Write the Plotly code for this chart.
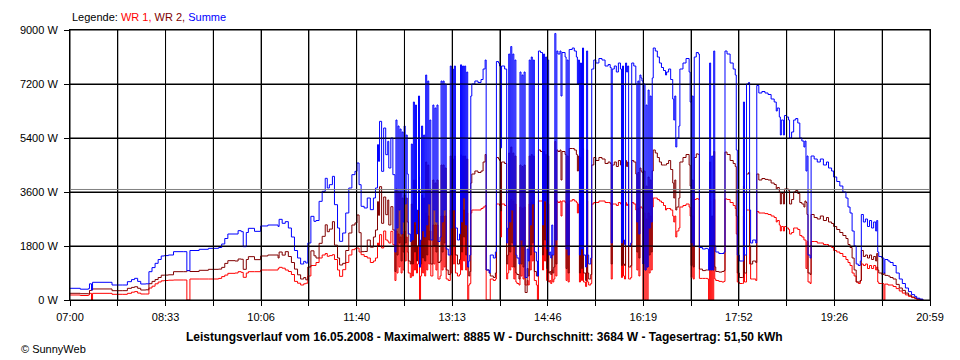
import plotly.graph_objects as go

# ---- data (minutes after 07:00, watts) ----
minutes = [
    0, 10, 18, 19, 21, 22, 39, 41, 51, 56, 60, 63, 66, 69, 74, 77, 80, 83, 86, 89, 92, 96, 101, 111, 114,
    116, 117, 126, 135, 145, 148, 151, 154, 161, 164, 167, 169, 172, 174, 180, 186, 193, 200, 203, 204, 207, 210,
    213, 216, 219, 222, 225, 228, 230, 232, 235, 238, 240, 243, 246, 249, 251, 253, 256, 258, 261, 263,
    266, 269, 272, 275, 278, 280, 282, 284, 287, 290, 293, 296, 298, 300, 301, 302, 304, 306, 308, 310, 311, 313, 315, 317,
    318, 319, 320, 321, 322, 323, 324, 325, 326, 327, 328, 329, 330, 332, 333, 334, 335, 336, 337, 338,
    339, 340, 341, 342, 343, 344, 345, 346, 347, 348, 349, 350, 351, 352, 354, 355, 356, 357, 358, 359,
    361, 362, 363, 364, 365, 366, 367, 369, 371, 372, 373, 374, 375, 376, 378, 380, 381, 382, 383, 384, 385, 386, 387, 388, 389, 390,
    391, 392, 395, 398, 401, 403, 405, 406, 409, 410, 413, 415, 416, 418, 419, 420, 421, 424,
    426, 427, 428, 429, 430, 431, 432, 433, 434, 435, 436, 438, 439, 440, 441, 442, 443, 444, 446, 447,
    448, 449, 450, 451, 452, 453, 455, 456, 457, 459, 461, 462, 463, 464, 465, 466, 467, 468, 469, 470, 471, 472,
    473, 474, 475, 476, 478, 479, 480, 483, 484, 485, 486, 487, 490, 492, 494, 495, 496, 497, 498, 499, 500,
    501, 503, 504, 505, 506, 508, 509, 511, 513, 516, 519, 522, 525, 527, 528, 529, 531, 533, 535, 537,
    538, 539, 540, 541, 542, 543, 544, 545, 547, 548, 550, 552, 553, 554, 555, 556, 557, 558,
    559, 560, 561, 562, 563, 564, 565, 566, 567, 568, 569, 571, 573, 575, 577, 579, 581, 582, 584, 586,
    588, 589, 590, 591, 592, 594, 595, 598, 601, 604, 605, 606, 607, 608, 609, 611, 613, 614, 617, 620, 622,
    623, 624, 625, 626, 627, 628, 629, 630, 633, 636, 638, 639, 641, 644, 647, 649, 650, 651, 653, 656, 657, 658,
    660, 662, 663, 664, 666, 669, 670, 672, 675, 678, 681, 684, 687, 689, 690, 692, 693, 694, 696, 697,
    699, 701, 702, 704, 706, 708, 710, 712, 714, 716, 717, 718, 719, 720, 722, 723, 726, 729, 732, 735,
    738, 740, 743, 745, 748, 751, 754, 757, 759, 761, 763, 765, 767, 769, 771, 772, 774, 776, 778, 780,
    782, 784, 786, 787, 788, 789, 792, 794, 795, 798, 800, 803, 806, 809, 812, 815, 818, 821, 824, 826, 829, 832,
]

summe = [
    390, 360, 380, 540, 333, 590, 590, 500, 500, 611, 680, 722, 620, 533, 540, 944, 1080, 1222, 1350, 1467, 1480, 1500, 1611, 1611, 980,
    980, 1650, 1690, 1722, 1750, 1867, 2050, 2200, 2200, 2311, 2278, 1778, 2250, 2389, 2289, 2467, 2500, 2500, 2450, 2689, 2556, 2611,
    2400, 2100, 1650, 1400, 1200, 1289, 1233, 1900, 2789, 2622, 2650, 3289, 3622, 4056, 3733, 3844, 4122, 3178, 2400, 1956,
    2233, 2900, 3733, 4178, 4289, 4567, 3844, 3122, 3067, 3400, 3011, 3400, 3733, 5178, 4622, 5956, 4289, 5733, 4844, 5289, 4400, 5400, 4178, 1600,
    6000, 2400, 5800, 3000, 5700, 2200, 5600, 2600, 5800, 3200, 5500, 4200, 2200, 1950, 5200, 2000, 6600, 2600, 6500, 2200,
    3000, 6800, 1100, 2000, 5800, 2300, 5500, 2100, 7500, 2500, 7300, 3200, 6000, 2000, 6500, 3000, 6400, 2600, 6500, 1950,
    2100, 7300, 2600, 7300, 3000, 7200, 1700, 1500, 7800, 2400, 7700, 3000, 7800, 2400, 2000, 2200, 7840, 2600, 7800, 3400, 7800, 2500, 7600, 1100, 1300, 1500,
    6800, 7200, 7300, 7250, 7350, 7700, 8000, 1000, 900, 1500, 1400, 1600, 7950, 7900, 7800, 5070, 7800, 7700,
    1900, 2400, 8200, 2600, 8450, 3000, 8200, 1800, 8000, 1500, 1400, 1200, 7600, 2000, 7500, 1800, 7600, 750, 1700, 1300,
    8000, 2500, 8100, 3200, 8000, 1600, 1300, 800, 8300, 8250, 2500, 8200, 3300, 8100, 1700, 8000, 1500, 1600, 1400, 2500, 1500, 1800,
    8885, 2000, 8300, 8200, 8300, 6800, 8250, 8100, 1700, 8000, 1500, 8350, 8400, 8300, 8100, 7200, 8000, 1500, 7900, 1700, 8400,
    1500, 1100, 8300, 1500, 1200, 1400, 7700, 8000, 7900, 8050, 8000, 7800, 7850, 7750, 1900, 7700, 7800, 7600, 7900, 7700,
    1900, 7800, 2000, 1850, 7900, 7600, 7800, 1800, 1900, 7900, 7800, 7200, 2600, 7300, 2200, 7500, 7400, 7300,
    1200, 7200, 1000, 6500, 1100, 7000, 2400, 6800, 2600, 7400, 8400, 8300, 8100, 7900, 7750, 7650, 7500, 7600, 7700, 7350,
    6700, 6000, 6800, 5100, 5400, 5800, 7700, 7900, 8050, 7600, 6600, 1900, 6800, 1800, 8100, 8250, 8200, 1750, 1700, 1720, 1700,
    1000, 7900, 1000, 4800, 1000, 8300, 1800, 1600, 1550, 1550, 1600, 8300, 8200, 7900, 7700, 7500, 5000, 1500, 1300, 1300, 6600, 1500,
    7200, 7250, 3000, 1900, 2000, 1900, 7150, 6900, 6950, 6900, 6850, 6700, 6600, 6300, 6400, 6100, 5500, 6000, 5500, 6150,
    6100, 6000, 5400, 5600, 6000, 6050, 5900, 5400, 5300, 5100, 5300, 4300, 4800, 1500, 1400, 4800, 4700, 4600, 4700, 4500,
    4600, 4400, 4300, 4100, 3950, 3800, 3600, 3400, 3100, 2900, 2300, 1800, 1200, 1150, 1300, 2850, 2600, 2700, 2450, 2650,
    2400, 2600, 2300, 2650, 1600, 1450, 1400, 900, 1350, 1300, 1250, 1150, 900, 700, 550, 400, 280, 180, 120, 60, 30, 0,
]

wr1 = [
    167, 150, 170, 222, 0, 222, 222, 190, 189, 222, 260, 280, 230, 200, 200, 400, 460, 540, 600, 640, 650, 660, 667, 667, 0,
    0, 700, 700, 700, 720, 780, 830, 889, 900, 944, 920, 756, 900, 944, 944, 1000, 1000, 1000, 1050, 1089, 1060, 1000,
    950, 850, 620, 560, 500, 540, 560, 800, 1150, 1150, 1250, 1400, 1500, 1550, 1456, 1480, 1511, 1350, 1000, 789,
    1011, 1250, 1500, 1678, 1720, 1733, 1600, 1511, 1450, 1400, 1250, 1300, 1400, 1900, 1800, 2178, 1733, 2300, 2000, 1956, 1900, 2289, 1844, 650,
    2300, 900, 2200, 1100, 2100, 900, 2200, 1000, 2300, 1300, 2100, 1600, 900, 750, 2000, 800, 2600, 1000, 2500, 900,
    1200, 2700, 0, 800, 2300, 900, 2100, 800, 2900, 1000, 2800, 1200, 2300, 800, 2500, 1200, 2500, 1000, 2500, 700,
    800, 2800, 1000, 2800, 1100, 2800, 700, 650, 3000, 900, 3000, 1200, 3000, 900, 800, 850, 3000, 1000, 3000, 1300, 3000, 1000, 2900, 0, 500, 550,
    2900, 3000, 3000, 3000, 3050, 3100, 3150, 0, 0, 700, 650, 700, 3200, 3200, 3150, 2100, 3200, 3150,
    700, 900, 3300, 1000, 3350, 1100, 3300, 700, 3200, 600, 550, 500, 3100, 800, 3050, 700, 3100, 500, 650, 500,
    3200, 1000, 3250, 1300, 3200, 650, 500, 0, 3300, 3300, 1000, 3250, 1300, 3250, 650, 3200, 600, 650, 550, 1000, 600, 700,
    3600, 800, 3300, 3250, 3300, 2800, 3300, 3250, 650, 3200, 600, 3300, 3350, 3300, 3250, 2900, 3200, 600, 3150, 650, 3350,
    600, 450, 3300, 600, 500, 550, 3200, 3250, 3250, 3300, 3300, 3250, 3250, 3200, 700, 3200, 3200, 3150, 3250, 3200,
    750, 3200, 800, 700, 3250, 3150, 3200, 700, 750, 3250, 3200, 3000, 1000, 3050, 800, 3100, 3100, 3050,
    0, 2900, 0, 2700, 0, 2900, 900, 2800, 1000, 3100, 3400, 3400, 3350, 3300, 3250, 3150, 3000, 3050, 3050, 3000,
    2800, 2600, 2800, 2100, 2300, 2400, 3100, 3150, 3200, 3100, 2800, 750, 2800, 700, 3350, 3380, 3350, 720, 720, 720, 700,
    0, 3300, 0, 2000, 0, 3350, 700, 650, 620, 600, 620, 3370, 3350, 3250, 3150, 3050, 2200, 600, 550, 550, 2800, 600,
    3000, 3000, 1200, 700, 700, 650, 2950, 2900, 2900, 2880, 2850, 2800, 2750, 2600, 2650, 2500, 2300, 2450, 2300, 2450,
    2400, 2350, 2200, 2250, 2400, 2400, 2350, 2150, 2100, 2000, 2000, 1050, 1950, 600, 550, 1950, 1950, 1900, 1900, 1850,
    1850, 1800, 1750, 1650, 1600, 1550, 1450, 1350, 1250, 1150, 900, 800, 600, 550, 650, 1200, 1150, 1200, 1050, 1150,
    1050, 1150, 1000, 1100, 600, 550, 550, 0, 530, 500, 500, 450, 380, 300, 230, 170, 120, 80, 50, 20, 10, 0,
]

wr2 = [
    223, 210, 210, 318, 333, 368, 368, 310, 311, 389, 420, 442, 390, 333, 340, 544, 620, 682, 750, 827, 830, 840, 944, 944, 980,
    980, 950, 990, 1022, 1030, 1087, 1220, 1311, 1300, 1367, 1358, 1022, 1350, 1445, 1345, 1467, 1500, 1500, 1400, 1600, 1496, 1611,
    1450, 1250, 1030, 840, 700, 749, 673, 1100, 1639, 1472, 1400, 1889, 2122, 2506, 2277, 2364, 2611, 1828, 1400, 1167,
    1222, 1650, 2233, 2500, 2569, 2834, 2244, 1611, 1617, 2000, 1761, 2100, 2333, 3278, 2822, 3778, 2556, 3433, 2844, 3333, 2500, 3111, 2334, 950,
    3700, 1500, 3600, 1900, 3600, 1300, 3400, 1600, 3500, 1900, 3400, 2600, 1300, 1200, 3200, 1200, 4000, 1600, 4000, 1300,
    1800, 4100, 1100, 1200, 3500, 1400, 3400, 1300, 4600, 1500, 4500, 2000, 3700, 1200, 4000, 1800, 3900, 1600, 4000, 1250,
    1300, 4500, 1600, 4500, 1900, 4400, 1000, 850, 4800, 1500, 4700, 1800, 4800, 1500, 1200, 1350, 4840, 1600, 4800, 2100, 4800, 1500, 4700, 1100, 800, 950,
    3900, 4200, 4300, 4250, 4300, 4600, 4850, 1000, 900, 800, 750, 900, 4750, 4700, 4650, 2970, 4600, 4550,
    1200, 1500, 4900, 1600, 5100, 1900, 4900, 1100, 4800, 900, 850, 700, 4500, 1200, 4450, 1100, 4500, 250, 1050, 800,
    4800, 1500, 4850, 1900, 4800, 950, 800, 800, 5000, 4950, 1500, 4950, 2000, 4850, 1050, 4800, 900, 950, 850, 1500, 900, 1100,
    5285, 1200, 5000, 4950, 5000, 4000, 4950, 4850, 1050, 4800, 900, 5050, 5050, 5000, 4850, 4300, 4800, 900, 4750, 1050, 5050,
    900, 650, 5000, 900, 700, 850, 4500, 4750, 4650, 4750, 4700, 4550, 4600, 4550, 1200, 4500, 4600, 4450, 4650, 4500,
    1150, 4600, 1200, 1150, 4650, 4450, 4600, 1100, 1150, 4650, 4600, 4200, 1600, 4250, 1400, 4400, 4300, 4250,
    1200, 4300, 1000, 3800, 1100, 4100, 1500, 4000, 1600, 4300, 5000, 4900, 4750, 4600, 4500, 4500, 4500, 4550, 4650, 4350,
    3900, 3400, 4000, 3000, 3100, 3400, 4600, 4750, 4850, 4500, 3800, 1150, 4000, 1100, 4750, 4870, 4850, 1030, 980, 1000, 1000,
    1000, 4600, 1000, 2800, 1000, 4950, 1100, 950, 930, 950, 980, 4930, 4850, 4650, 4550, 4450, 2800, 900, 750, 750, 3800, 900,
    4200, 4250, 1800, 1200, 1300, 1250, 4200, 4000, 4050, 4020, 4000, 3900, 3850, 3700, 3750, 3600, 3200, 3550, 3200, 3700,
    3700, 3650, 3200, 3350, 3600, 3650, 3550, 3250, 3200, 3100, 3300, 3250, 2850, 900, 850, 2850, 2750, 2700, 2800, 2650,
    2750, 2600, 2550, 2450, 2350, 2250, 2150, 2050, 1850, 1750, 1400, 1000, 600, 600, 650, 1650, 1450, 1500, 1400, 1500,
    1350, 1450, 1300, 1550, 1000, 900, 850, 900, 820, 800, 750, 700, 520, 400, 320, 230, 160, 100, 70, 40, 20, 0,
]

assert len(minutes) == len(summe) == len(wr1) == len(wr2), (len(minutes), len(summe), len(wr1), len(wr2))

x_tick_labels = ["07:00", "08:33", "10:06", "11:40", "13:13", "14:46", "16:19", "17:52", "19:26", "20:59"]
y_tick_values = [0, 1800, 3600, 5400, 7200, 9000]
y_tick_labels = ["0 W", "1800 W", "3600 W", "5400 W", "7200 W", "9000 W"]
average_w = 3684
day_span_min = 839          # 07:00 .. 20:59
grid_divisions = 18

FONT = "Liberation Sans, Arial, sans-serif"

grid_pos = [i * day_span_min / grid_divisions for i in range(grid_divisions + 1)]
grid_txt = [x_tick_labels[i // 2] if i % 2 == 0 else "" for i in range(grid_divisions + 1)]

fig = go.Figure()
# drawing order as in the reference: WR 1, WR 2, then Summe on top; step-like logger traces
fig.add_trace(go.Scatter(x=minutes, y=wr1, mode="lines", line=dict(color="#FF0000", width=1, shape="hv"),
                         name="WR 1"))
fig.add_trace(go.Scatter(x=minutes, y=wr2, mode="lines", line=dict(color="#800000", width=1, shape="hv"),
                         name="WR 2"))
fig.add_trace(go.Scatter(x=minutes, y=summe, mode="lines", line=dict(color="#0000FF", width=1, shape="hv"),
                         name="Summe"))

# grid (and average line) drawn above the data, as in the reference
shapes = []
for gx in grid_pos:
    shapes.append(dict(type="line", xref="x", yref="y", x0=gx, x1=gx, y0=0, y1=9000,
                       line=dict(color="black", width=1), layer="above"))
for gy in y_tick_values:
    shapes.append(dict(type="line", xref="x", yref="y", x0=0, x1=day_span_min, y0=gy, y1=gy,
                       line=dict(color="black", width=1), layer="above"))
shapes.append(dict(type="line", xref="x", yref="y", x0=0, x1=day_span_min, y0=average_w, y1=average_w,
                   line=dict(color="#808080", width=1), layer="above"))

axis_common = dict(showgrid=True, gridcolor="black", gridwidth=1, showline=True, linecolor="black",
                   linewidth=1, mirror=True, ticks="outside", ticklen=5, tickcolor="black",
                   zeroline=False, layer="above traces",
                   tickfont=dict(family=FONT, size=11, color="black"))

fig.update_layout(
    width=952, height=352,
    margin=dict(l=52, r=30, t=22, b=60),
    paper_bgcolor="white", plot_bgcolor="white",
    showlegend=False,
    font=dict(family=FONT, size=11, color="black"),
    xaxis=dict(range=[0, day_span_min], tickmode="array", tickvals=grid_pos, ticktext=grid_txt,
               ticklabelstandoff=2, **axis_common),
    yaxis=dict(range=[0, 9000], tickmode="array", tickvals=y_tick_values, ticktext=y_tick_labels,
               ticklabelstandoff=4, **axis_common),
    shapes=shapes,
    annotations=[
        dict(xref="paper", yref="paper", x=0, y=1, yshift=13, xanchor="left", yanchor="middle", showarrow=False,
             text='Legende: <span style="color:#FF0000">WR 1,</span> <span style="color:#800000">WR 2,</span> '
                  '<span style="color:#0000FF">Summe</span>',
             font=dict(family=FONT, size=11, color="black")),
        dict(xref="paper", yref="paper", x=0.482, y=0, yshift=-37, xanchor="center", yanchor="middle",
             showarrow=False,
             text="<b>Leistungsverlauf vom 16.05.2008 - Maximalwert: 8885 W - Durchschnitt: 3684 W - "
                  "Tagesertrag: 51,50 kWh</b>",
             font=dict(family=FONT, size=12, color="black")),
        dict(xref="paper", yref="paper", x=-52 / 870, y=0, yshift=-49, xanchor="left", yanchor="middle",
             showarrow=False, text="© SunnyWeb", font=dict(family=FONT, size=11, color="black")),
    ],
)

fig.write_html("out.html")
